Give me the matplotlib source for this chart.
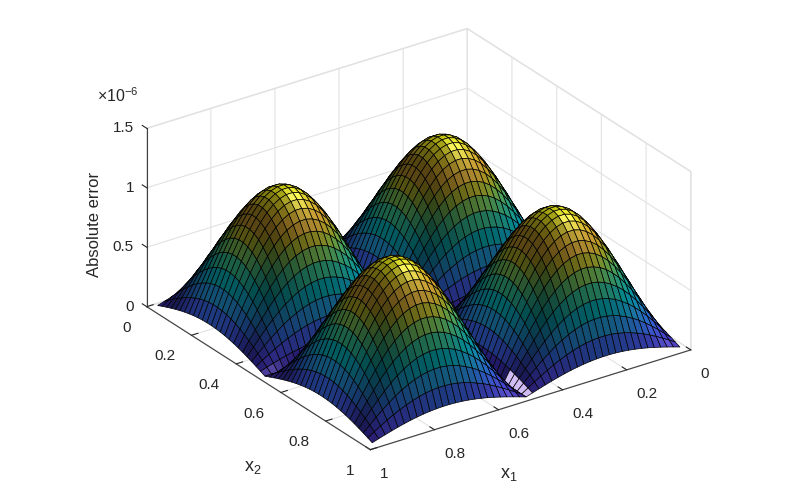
import numpy as np
import matplotlib
matplotlib.use("Agg")
import matplotlib.pyplot as plt
from matplotlib.colors import LinearSegmentedColormap
from matplotlib.transforms import Affine2D

plt.rcParams['font.family'] = ['Liberation Sans', 'DejaVu Sans']
plt.rcParams['mathtext.default'] = 'regular'

half_profile = [0.125, 0.249, 0.368, 0.482, 0.588, 0.685, 0.771, 0.844, 0.905, 0.951, 0.982, 0.998,
                0.998, 0.982, 0.951, 0.905, 0.844, 0.771, 0.685, 0.588, 0.482, 0.368, 0.249, 0.125]
x1_profile = half_profile + [0.0] + half_profile
x2_profile = list(x1_profile)
x1_values = [round(0.02 * (i + 1), 2) for i in range(49)]
x2_values = list(x1_values)
peak_height = 1.10  # in units of 1e-6

x1_ticks = [0, 0.2, 0.4, 0.6, 0.8, 1]
x2_ticks = [0, 0.2, 0.4, 0.6, 0.8, 1]
z_ticks = [0, 0.5, 1, 1.5]
z_ticklabels = ['0', '0.5', '1', '1.5']

parula_colors = [
    (0.2422, 0.1504, 0.6603), (0.2706, 0.2147, 0.8364), (0.2813, 0.3006, 0.9414), (0.2699, 0.3892, 0.9906),
    (0.1963, 0.4847, 0.9892), (0.1687, 0.5703, 0.9359), (0.1248, 0.6459, 0.8883), (0.0689, 0.6948, 0.8394),
    (0.0067, 0.7312, 0.7660), (0.1408, 0.7584, 0.6842), (0.2161, 0.7843, 0.5923), (0.3406, 0.8008, 0.4789),
    (0.5044, 0.7993, 0.3480), (0.6720, 0.7793, 0.2227), (0.8203, 0.7498, 0.1535), (0.9393, 0.7288, 0.2100),
    (0.9970, 0.7659, 0.2199), (0.9786, 0.8386, 0.1766), (0.9597, 0.9135, 0.1423), (0.9769, 0.9839, 0.0805)]
parula = LinearSegmentedColormap.from_list('parula', parula_colors)

X1, X2 = np.meshgrid(x1_values, x2_values, indexing='ij')
Z = peak_height * np.outer(x1_profile, x2_profile)

BOX = (1.0, 1.0, 0.51)
ELEV, AZIM = 26.5, 55.1
ZMAX = 1.5

# facet lighting: flat colour from parula, then ambient + diffuse + specular
sz = Z * BOX[2] / ZMAX
d1 = 0.5 * ((sz[1:, :-1] - sz[:-1, :-1]) + (sz[1:, 1:] - sz[:-1, 1:])) / 0.02
d2 = 0.5 * ((sz[:-1, 1:] - sz[:-1, :-1]) + (sz[1:, 1:] - sz[1:, :-1])) / 0.02
N = np.dstack([-d1, -d2, np.ones_like(d1)])
N /= np.linalg.norm(N, axis=2, keepdims=True)
L = np.array([-0.65, 0.0, 0.76]); L = L / np.linalg.norm(L)
a, e = np.radians(AZIM), np.radians(ELEV)
V = np.array([np.cos(e) * np.cos(a), np.cos(e) * np.sin(a), np.sin(e)])
H = (L + V) / np.linalg.norm(L + V)
ndl = np.abs(N @ L)
ndh = np.abs(N @ H)
zc = 0.25 * (Z[:-1, :-1] + Z[1:, :-1] + Z[:-1, 1:] + Z[1:, 1:]) / peak_height
base = parula(zc)[..., :3]
inten = (0.33 + 0.60 * ndl)[..., None]
spec = (0.30 * ndh ** 25)[..., None]
faces = np.clip(base * inten + spec, 0, 1)
faces[23, 43:48] = (0.82, 0.74, 0.96)  # bright glint along the valley near the front edge

fig = plt.figure(figsize=(7.88, 4.87), dpi=100, facecolor='white')
ax = fig.add_axes([18.2 / 788, -2.2 / 487, 1, 1], projection='3d', proj_type='ortho')
ax.view_init(elev=ELEV, azim=AZIM)
ax.set_box_aspect(BOX, zoom=1.171)
surface = ax.plot_surface(X1, X2, Z, facecolors=faces, rstride=1, cstride=1, shade=False,
                          edgecolor='black', linewidth=0.5, antialiased=True)
surface.set_clip_on(False)
ax.set_xlim(0, 1); ax.set_ylim(0, 1); ax.set_zlim(0, ZMAX)
ax.set_xticks(x1_ticks); ax.set_yticks(x2_ticks); ax.set_zticks(z_ticks)
ax.set_xticklabels([str(t) for t in x1_ticks], ha='left')
ax.set_yticklabels([str(t) for t in x2_ticks], ha='right')
ax.set_zticklabels(z_ticklabels, ha='right')
ax.tick_params(labelsize=11, colors='#262626')
ax.tick_params(axis='x', pad=0)
ax.tick_params(axis='y', pad=1.3)
ax.tick_params(axis='z', pad=1)
ax.zaxis.set_ticks_position('lower')
ax.zaxis._get_tickdir = lambda position: 1  # z ticks run along x2, as in the reference


def nudge(text_artist, dx, dy):
    """Offset a text that Axes3D repositions at draw time, in pixels."""
    text_artist.get_transform = lambda: ax.transData + Affine2D().translate(dx, dy)


for axis in (ax.xaxis, ax.yaxis, ax.zaxis):
    axis.pane.set_facecolor('white')
    axis.pane.set_edgecolor('#e2e2e2')
    axis.pane.set_alpha(1)
    axis.line.set_color('#404040')
    axis.line.set_linewidth(0.8)
    axis._axinfo['grid'].update(color='#e2e2e2', linewidth=0.8)
    axis._axinfo['tick'].update(inward_factor=0.0, outward_factor=0.25, linewidth={True: 0.8, False: 0.8})
    axis._axinfo['tick']['color'] = '#404040'
    axis.set_rotate_label(False)
for tick in ax.xaxis.get_major_ticks():
    nudge(tick.label1, 0, -3)
for tick in ax.zaxis.get_major_ticks():
    nudge(tick.label1, 14, 5)
ax.set_xlabel('x$_1$', fontsize=13, rotation=0, labelpad=8, color='#262626')
ax.set_ylabel('x$_2$', fontsize=13, rotation=0, labelpad=8, color='#262626')
ax.set_zlabel('Absolute error', fontsize=12, rotation=90, labelpad=8, color='#262626')
nudge(ax.xaxis.label, -57, -24)
nudge(ax.yaxis.label, 45, -45)
nudge(ax.zaxis.label, 34, -14)
fig.text(97 / 788, 1 - 96 / 487, '$\\times$10$^{-6}$', fontsize=11.5, color='#262626', va='center')
fig.savefig('out.png', dpi=100)
